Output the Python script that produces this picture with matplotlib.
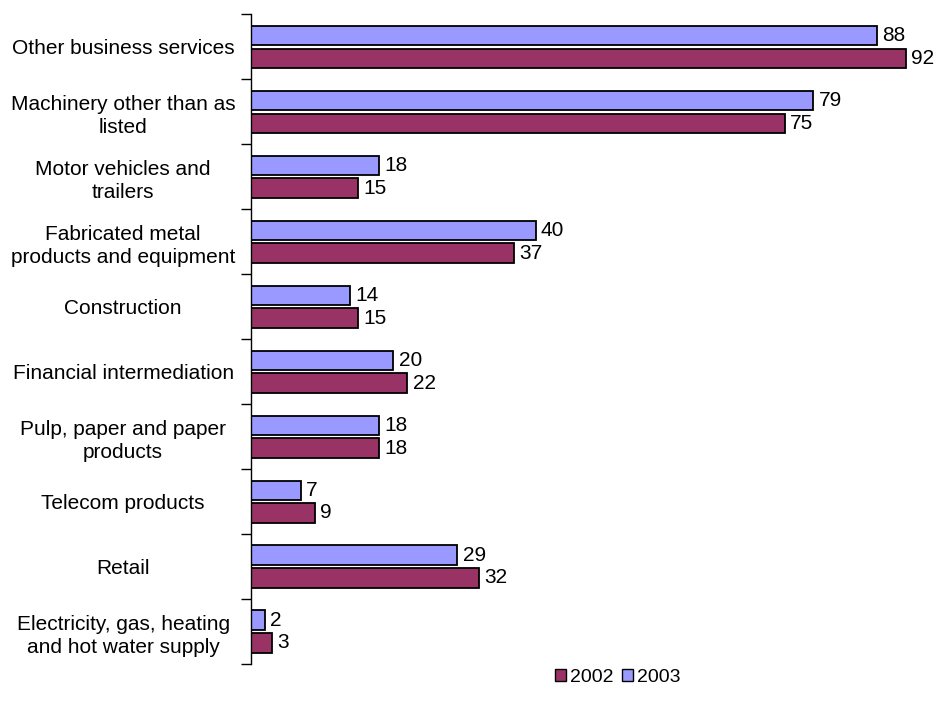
#!/usr/bin/env python3
"""Grouped horizontal bars by industry, 2002 vs 2003."""

import numpy as np
import matplotlib.pyplot as plt
from matplotlib.patches import Patch

plt.rcParams['font.family'] = ['Liberation Sans', 'DejaVu Sans']

categories = [
    "Other business services",
    "Machinery other than as\nlisted",
    "Motor vehicles and\ntrailers",
    "Fabricated metal\nproducts and equipment",
    "Construction",
    "Financial intermediation",
    "Pulp, paper and paper\nproducts",
    "Telecom products",
    "Retail",
    "Electricity, gas, heating\nand hot water supply",
]
values_2003 = [88, 79, 18, 40, 14, 20, 18, 7, 29, 2]
values_2002 = [92, 75, 15, 37, 15, 22, 18, 9, 32, 3]

c2002 = "#993366"
c2003 = "#9999FF"

fig = plt.figure(figsize=(9.36, 7.13), dpi=100)
ax = fig.add_axes([0.268, 0.0687, 0.73, 0.911])

y = np.arange(len(categories))
h = 0.30
off = 0.175

b03 = ax.barh(y - off, values_2003, height=h, color=c2003,
              edgecolor="black", linewidth=1.3)
b02 = ax.barh(y + off, values_2002, height=h, color=c2002,
              edgecolor="black", linewidth=1.3)

for bars, vals in ((b03, values_2003), (b02, values_2002)):
    for bar, v in zip(bars, vals):
        ax.text(v + 0.75, bar.get_y() + bar.get_height() / 2, str(v),
                va="center", ha="left", fontsize=15, clip_on=False)

ax.set_xlim(0, 96)
ax.set_ylim(len(categories) - 0.5, -0.5)

# category labels centred between boundary ticks
ax.set_yticks(y)
ax.set_yticklabels(categories, fontsize=15, ha="center",
                   multialignment="center", linespacing=1.3)
ax.tick_params(axis="y", length=0, pad=92)
ax.set_yticks(np.arange(len(categories) + 1) - 0.5, minor=True)
ax.tick_params(axis="y", which="minor", length=7, width=1)

ax.set_xticks([])
for side in ("top", "right", "bottom"):
    ax.spines[side].set_visible(False)
ax.spines["left"].set_linewidth(1)

handles = [Patch(facecolor=c2002, edgecolor="black", label="2002"),
           Patch(facecolor=c2003, edgecolor="black", label="2003")]
fig.legend(handles=handles, loc="center", bbox_to_anchor=(0.66, 0.05),
           ncol=2, frameon=False, fontsize=14, handlelength=0.6,
           handleheight=0.6, handletextpad=0.2, columnspacing=0.4)

fig.savefig("out.png", dpi=100)
